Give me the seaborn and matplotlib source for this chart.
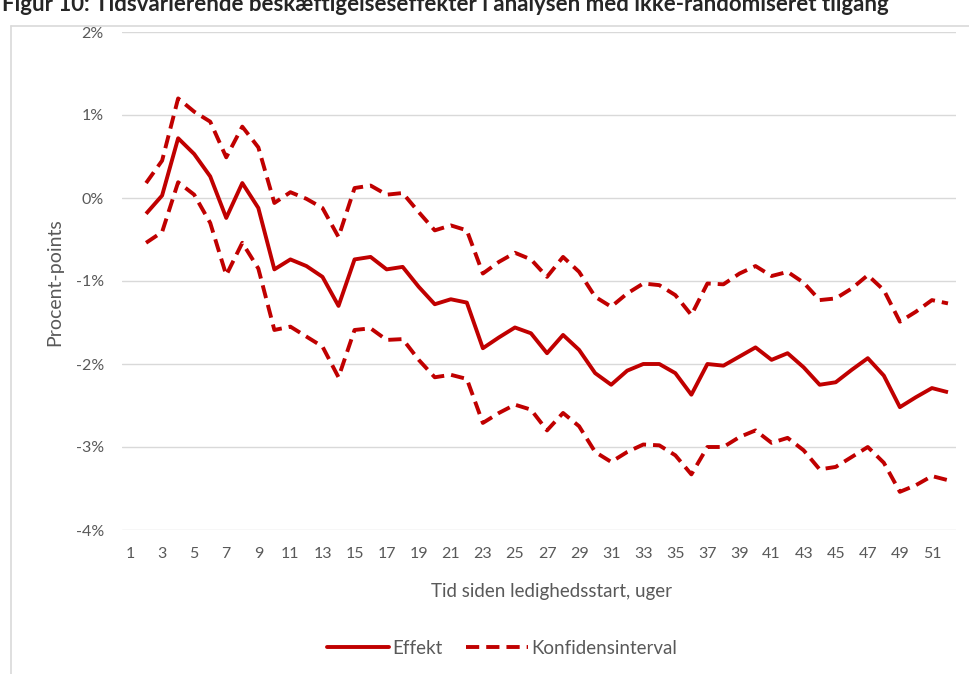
import matplotlib
matplotlib.use("Agg")
import matplotlib.pyplot as plt
import seaborn as sns
import pandas as pd
from matplotlib.lines import Line2D
from matplotlib.ticker import FixedLocator, FuncFormatter

# ---- data (percentage points, weeks 2..52) ----
weeks = list(range(2, 53))
effect = [-0.19, 0.03, 0.72, 0.53, 0.26, -0.24, 0.18, -0.12, -0.86, -0.74, -0.82, -0.95,
          -1.30, -0.74, -0.71, -0.86, -0.83, -1.07, -1.28, -1.22, -1.26, -1.81, -1.68, -1.56, -1.63,
          -1.87, -1.65, -1.83, -2.11, -2.25, -2.08, -2.00, -2.00, -2.11, -2.37, -2.00, -2.02, -1.91,
          -1.80, -1.95, -1.87, -2.04, -2.25, -2.22, -2.07, -1.93, -2.14, -2.52, -2.40, -2.29, -2.34]
upper = [0.18, 0.45, 1.20, 1.04, 0.92, 0.49, 0.86, 0.61, -0.06, 0.07, -0.01, -0.12,
         -0.47, 0.12, 0.15, 0.04, 0.06, -0.17, -0.39, -0.33, -0.39, -0.91, -0.77, -0.66, -0.74,
         -0.95, -0.71, -0.89, -1.19, -1.31, -1.15, -1.03, -1.05, -1.17, -1.41, -1.03, -1.04, -0.91,
         -0.82, -0.94, -0.89, -1.02, -1.23, -1.21, -1.09, -0.93, -1.11, -1.49, -1.37, -1.23, -1.27]
lower = [-0.54, -0.41, 0.19, 0.04, -0.30, -0.93, -0.54, -0.85, -1.59, -1.55, -1.67, -1.79,
         -2.16, -1.59, -1.57, -1.71, -1.70, -1.95, -2.16, -2.13, -2.18, -2.71, -2.59, -2.49, -2.55,
         -2.80, -2.59, -2.75, -3.06, -3.18, -3.06, -2.97, -2.98, -3.10, -3.33, -3.00, -3.00, -2.88,
         -2.80, -2.95, -2.89, -3.04, -3.27, -3.24, -3.12, -3.00, -3.19, -3.54, -3.46, -3.35, -3.40]
x_ticks = list(range(1, 52, 2))
y_ticks = [-4, -3, -2, -1, 0, 1, 2]

title = "Figur 10: Tidsvarierende beskæftigelseseffekter i analysen med ikke-randomiseret tilgang"
x_label = "Tid siden ledighedsstart, uger"
y_label = "Procent-points"
legend_labels = ["Effekt", "Konfidensinterval"]

RED = "#C00000"
GREY_TXT = "#595959"
GRID = "#D9D9D9"

sns.set_theme(style="white")
plt.rcParams["font.family"] = ["Lato", "DejaVu Sans"]

W, H = 970, 674
fig = plt.figure(figsize=(W / 100, H / 100), dpi=100)
ax = fig.add_axes([122 / W, 1 - 530 / H, (956 - 122) / W, (530 - 32) / H])

lw = 2.8
dash = (0, (3.4, 1.8))
sns.lineplot(x=weeks, y=effect, ax=ax, color=RED, lw=lw, solid_capstyle="butt")
sns.lineplot(x=weeks, y=upper, ax=ax, color=RED, lw=lw, linestyle=dash)
sns.lineplot(x=weeks, y=lower, ax=ax, color=RED, lw=lw, linestyle=dash)

ax.set_xlim(0.5, 52.5)
ax.set_ylim(-4, 2)
ax.xaxis.set_major_locator(FixedLocator(x_ticks))
ax.yaxis.set_major_locator(FixedLocator(y_ticks))
ax.yaxis.set_major_formatter(FuncFormatter(lambda v, p: f"{v:.0f}%".replace("\u2212", "-")))
ax.grid(False)
ax.yaxis.grid(True, color=GRID, lw=1)
for s in ax.spines.values():
    s.set_visible(False)
ax.tick_params(axis="both", length=0, colors=GREY_TXT, labelsize=11.5)
ax.tick_params(axis="y", pad=13)
ax.tick_params(axis="x", pad=12)
ax.set_xlabel("")
ax.set_ylabel("")

fig.text(55 / W, 1 - 282 / H, y_label, rotation=90, ha="center", va="center",
         color=GREY_TXT, fontsize=14)
fig.text(552 / W, 1 - 591 / H, x_label, ha="center", va="center",
         color=GREY_TXT, fontsize=13.5)

handles = [Line2D([], [], color=RED, lw=lw),
           Line2D([], [], color=RED, lw=lw, linestyle=dash)]
leg = fig.legend(handles, legend_labels, loc="center", bbox_to_anchor=(502 / W, 1 - 648 / H),
                 ncol=2, frameon=False, handlelength=3.3, handletextpad=0.15,
                 columnspacing=1.3, fontsize=13.5)
for t in leg.get_texts():
    t.set_color(GREY_TXT)

# outer frame (left and top edges visible)
fig.add_artist(Line2D([11 / W, 11 / W], [0, 1 - 26 / H], transform=fig.transFigure,
                      color=GRID, lw=1.2))
fig.add_artist(Line2D([11 / W, 1], [1 - 26 / H, 1 - 26 / H], transform=fig.transFigure,
                      color=GRID, lw=1.2))

# title, cut at the top edge like the reference
fig.text(2 / W, 1 - 11 / H, title, ha="left", va="baseline", fontsize=16,
         fontweight="bold", color="#262626")

fig.savefig("out.png", dpi=100)
